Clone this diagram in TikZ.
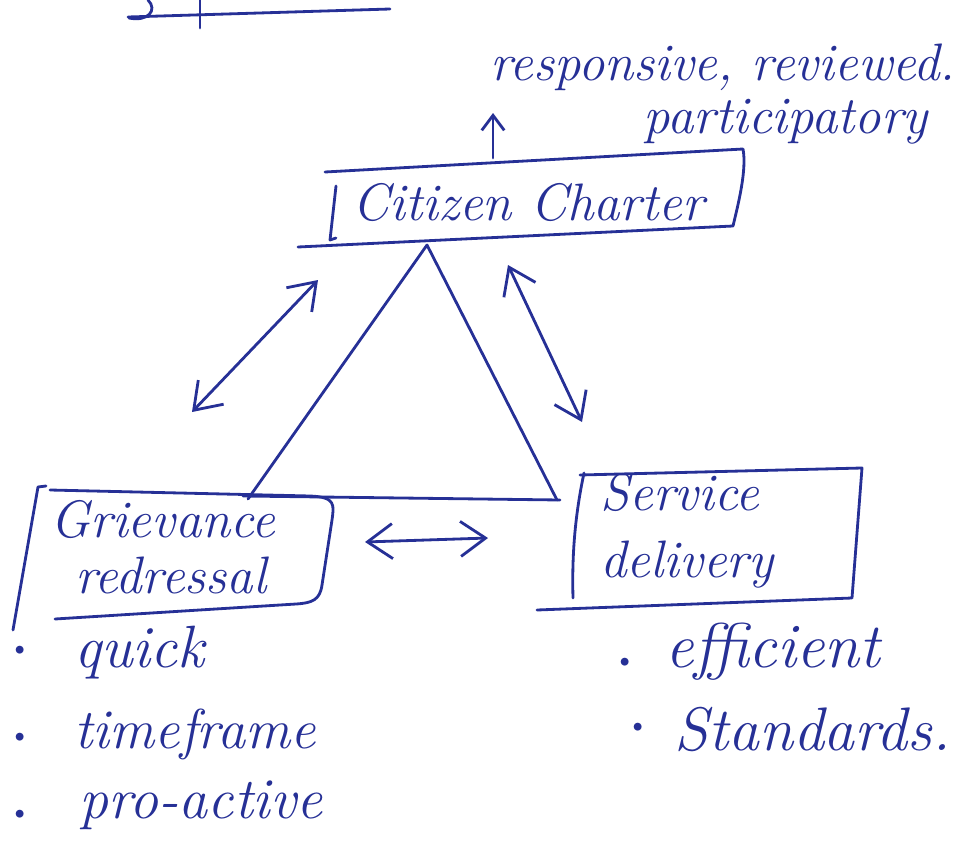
\documentclass[tikz,border=0pt]{standalone}
\usepackage{fontspec}
\usetikzlibrary{arrows.meta}
\definecolor{inkblue}{RGB}{38,48,150}
\newcommand\bltgap[2]{\raisebox{#1}{\upshape\fontsize{20}{20}\selectfont\char"2022}\hspace{#2}}
\tikzset{
  pen/.style={draw=inkblue, line width=1.6pt, line cap=round, line join=round},
  hand/.style={text=inkblue, font=\fontsize{30}{34}\selectfont\itshape, inner sep=0pt, anchor=base west},
  fsz/.style={font=\fontsize{#1}{#1}\selectfont\itshape},
  barb/.tip={Straight Barb[length=5mm,width=7mm,line width=1.6pt]},
  dbl/.style={pen, barb-barb},
  sgl/.style={pen, -{Straight Barb[length=3mm,width=4.5mm,line width=1.6pt]}},
}
\begin{document}
\begin{tikzpicture}[x=0.02cm,y=-0.02cm]
\useasboundingbox (0,0) rectangle (974,852);

% cut-off heading strokes at the very top
\draw[pen] (128,17) -- (390,9);
\draw[pen] (200,0) -- (200,28);
\draw[pen] (148,0) .. controls (158,10) and (148,22) .. (129,18);

% texts
\node[hand] (resp) at (490,80) {responsive, reviewed.};
\node[hand] (part) at (643,133) {participatory};
\node[hand] (cc) at (352,220) {Citizen Charter};
\node[hand] (gr1) at (50,537) {Grievance};
\node[hand] (gr2) at (75,593) {redressal};
\node[hand] (sd1) at (600,510) {Service};
\node[hand] (sd2) at (600,577) {delivery};
\node[hand, fsz=34] (q1) at (7,667) {\bltgap{0.16cm}{0.84cm}quick};
\node[hand, fsz=32] (q2) at (7,748) {\bltgap{0.04cm}{0.84cm}timeframe};
\node[hand, fsz=33] (q3) at (7,818) {\bltgap{-0.1cm}{0.94cm}pro-active};
\node[hand, fsz=36] (e1) at (612,667) {\bltgap{-0.08cm}{0.56cm}efficient};
\node[hand, fsz=35] (e2) at (625,750) {\bltgap{0.28cm}{0.48cm}Standards.};

% Citizen Charter box
\coordinate (ccTL) at (325,172);
\coordinate (ccTR) at (743,149);
\coordinate (ccBR) at (733,226);
\coordinate (ccBL) at (298,247);
\draw[pen] (ccTL) -- (ccTR) .. controls (747,170) and (738,205) .. (ccBR) -- (ccBL);
\draw[pen] (336,186) -- (330,240) -- (336,238);
\coordinate (upS) at (493,158);
\coordinate (upE) at (493,113);
\draw[sgl] (upS) -- (upE);

% Grievance redressal box
\draw[pen] (50,490) -- (310,496) .. controls (336,497) and (334,505) .. (332,520)
  -- (322,585) .. controls (320,600) and (312,603) .. (296,604) -- (55,619);
\draw[pen] (46,486) -- (38,487) -- (13,630);

% Service delivery box
\draw[pen] (580,475) -- (862,468) -- (852,598) -- (537,610);
\draw[pen] (584,473) .. controls (574,520) and (572,560) .. (573,598);

% triangle
\coordinate (tA) at (427,245);
\coordinate (tL) at (248,499);
\coordinate (tR) at (557,500);
\draw[pen] (tL) -- (tA) -- (tR);
\draw[pen] (243,496) -- (560,500);

% double arrows
\coordinate (a1s) at (318,280);
\coordinate (a1e) at (192,412);
\coordinate (a2s) at (508,265);
\coordinate (a2e) at (582,422);
\coordinate (a3s) at (365,542);
\coordinate (a3e) at (488,538);
\draw[dbl] (a1s) -- (a1e);
\draw[dbl] (a2s) -- (a2e);
\draw[dbl] (a3s) -- (a3e);
\end{tikzpicture}
\end{document}
